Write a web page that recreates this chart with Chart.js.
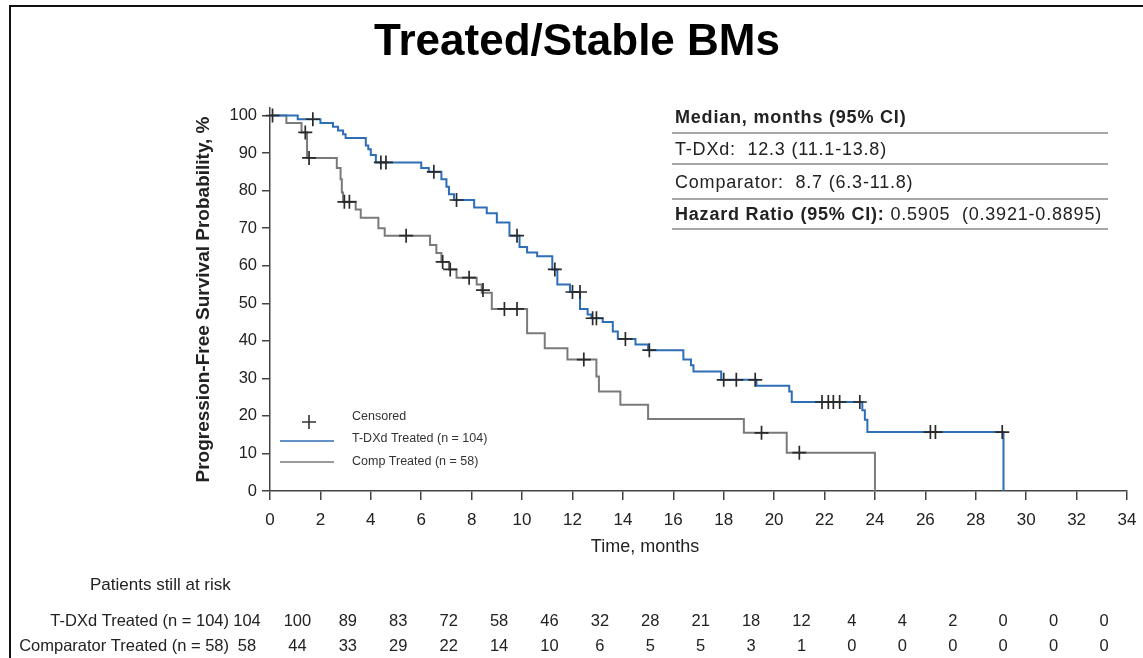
<!DOCTYPE html>
<html>
<head>
<meta charset="utf-8">
<script src="https://cdn.jsdelivr.net/npm/chart.js@4.4.1/dist/chart.umd.min.js"></script>
<style>
  html, body { margin: 0; padding: 0; background: #fff; }
  #wrap { width: 1143px; height: 658px; position: relative; }
</style>
</head>
<body>
<div id="wrap"><canvas id="pfsChart"></canvas></div>
<script>
// Kaplan-Meier steps: time (months) -> survival (%) after the event
const tdxdTimes = [0, 1.1, 2.0, 2.5, 2.7, 2.9, 3.0, 3.8, 3.9, 4.0, 4.2, 6.0, 6.3, 6.8, 7.0, 7.1, 7.3, 8.1, 8.6, 9.0, 9.5, 9.9, 10.2, 10.6, 11.2, 11.4, 11.9, 12.3, 12.6, 12.75, 13.2, 13.6, 13.8, 14.5, 15.0, 16.4, 16.7, 16.8, 17.9, 19.3, 20.6, 20.7, 23.5, 23.6, 23.7, 29.1];
const tdxdSurv  = [100, 99, 98, 97, 96, 95, 94, 92, 91, 89.5, 87.5, 86, 85, 83, 81, 79, 77.5, 75.5, 74, 71.5, 68, 65, 63.5, 62.5, 59, 55, 53, 48.5, 47, 46, 45, 42.5, 40.5, 39, 37.5, 35, 33.5, 31.8, 29.6, 28, 26.5, 23.7, 21.5, 19, 15.7, 0];
const tdxdCensorTimes = [0.1, 1.7, 4.4, 4.6, 6.5, 7.4, 9.8, 11.3, 12.0, 12.3, 12.8, 12.95, 14.1, 15.05, 18.0, 18.5, 19.25, 21.9, 22.15, 22.35, 22.6, 23.4, 26.2, 26.4, 29.05];
const tdxdCensorSurv  = [100, 99, 87.5, 87.5, 85, 77.5, 68, 59, 53, 53, 46, 46, 40.5, 37.5, 29.6, 29.6, 29.6, 23.7, 23.7, 23.7, 23.7, 23.7, 15.7, 15.7, 15.7];

const compTimes = [0, 0.65, 1.25, 1.47, 2.65, 2.8, 2.85, 2.9, 3.4, 3.6, 4.3, 4.55, 6.35, 6.6, 6.8, 7.1, 7.4, 8.2, 8.4, 8.8, 10.2, 10.9, 11.8, 12.95, 13.05, 13.9, 15.0, 18.8, 20.5, 24.0];
const compSurv  = [100, 98, 95.5, 88.7, 86, 83, 79.5, 77, 75, 72.8, 70, 68, 65.5, 63.4, 61, 59, 56.8, 55, 52.8, 48.5, 42, 38, 35, 30.5, 26.5, 23, 19.2, 15.5, 10.2, 0];
const compCensorTimes = [1.4, 1.55, 2.95, 3.15, 5.4, 6.85, 7.15, 7.9, 8.45, 9.3, 9.8, 12.45, 19.5, 21.0];
const compCensorSurv  = [95.5, 88.7, 77, 77, 68, 61, 59, 56.8, 53.5, 48.5, 48.5, 35, 15.5, 10.2];

// Patients still at risk, every 2 months
const riskTimes = [0, 2, 4, 6, 8, 10, 12, 14, 16, 18, 20, 22, 24, 26, 28, 30, 32, 34];
const tdxdRisk = [104, 100, 89, 83, 72, 58, 46, 32, 28, 21, 18, 12, 4, 4, 2, 0, 0, 0];
const compRisk = [58, 44, 33, 29, 22, 14, 10, 6, 5, 5, 3, 1, 0, 0, 0, 0, 0, 0];

const blue = 'rgb(46,110,182)';
const grey = 'rgb(122,122,122)';
const ink = '#222';
const FONT = '"Liberation Sans", Arial, sans-serif';

function toPoints(times, values) {
    return times.map((t, i) => ({ x: t, y: values[i] }));
}

const overlay = {
    id: 'overlay',
    afterDraw(chart) {
        const ctx = chart.ctx;
        const xs = chart.scales.x;
        ctx.save();

        // frame
        ctx.strokeStyle = '#111';
        ctx.lineWidth = 2;
        ctx.beginPath();
        ctx.moveTo(1143, 6);
        ctx.lineTo(10, 6);
        ctx.lineTo(10, 658);
        ctx.stroke();

        // title
        ctx.fillStyle = '#000';
        ctx.textAlign = 'center';
        ctx.textBaseline = 'middle';
        ctx.font = 'bold 44px ' + FONT;
        ctx.fillText('Treated/Stable BMs', 577, 43);

        // x axis title (sits left of the plot centre in the original)
        ctx.fillStyle = ink;
        ctx.font = '18px ' + FONT;
        ctx.fillText('Time, months', 645, 547);

        // median table
        ctx.textAlign = 'left';
        const tx = 675;
        ctx.letterSpacing = '0.8px';
        ctx.font = 'bold 18px ' + FONT;
        ctx.fillText('Median, months (95% CI)', tx, 118);
        ctx.font = '18px ' + FONT;
        ctx.fillText('T-DXd:  12.3 (11.1-13.8)', tx, 150);
        ctx.fillText('Comparator:  8.7 (6.3-11.8)', tx, 183);
        ctx.font = 'bold 18px ' + FONT;
        const hr = 'Hazard Ratio (95% CI):';
        ctx.fillText(hr, tx, 215);
        const w = ctx.measureText(hr).width;
        ctx.font = '18px ' + FONT;
        ctx.fillText(' 0.5905  (0.3921-0.8895)', tx + w, 215);
        ctx.letterSpacing = '0px';
        ctx.strokeStyle = '#8a8a8a';
        ctx.lineWidth = 1.5;
        [133, 164, 199, 229].forEach(y => {
            ctx.beginPath();
            ctx.moveTo(672, y);
            ctx.lineTo(1108, y);
            ctx.stroke();
        });

        // legend
        ctx.strokeStyle = '#333';
        ctx.lineWidth = 1.6;
        ctx.beginPath();
        ctx.moveTo(302, 422); ctx.lineTo(316, 422);
        ctx.moveTo(309, 415); ctx.lineTo(309, 429);
        ctx.stroke();
        ctx.lineWidth = 1.5;
        ctx.strokeStyle = blue;
        ctx.beginPath(); ctx.moveTo(280, 441); ctx.lineTo(334, 441); ctx.stroke();
        ctx.strokeStyle = grey;
        ctx.beginPath(); ctx.moveTo(280, 462); ctx.lineTo(334, 462); ctx.stroke();
        ctx.fillStyle = '#333';
        ctx.font = '12.5px ' + FONT;
        ctx.fillText('Censored', 352, 417);
        ctx.fillText('T-DXd Treated (n = 104)', 352, 439);
        ctx.fillText('Comp Treated (n = 58)', 352, 462);

        // risk table
        ctx.fillStyle = ink;
        ctx.font = '17px ' + FONT;
        ctx.fillText('Patients still at risk', 90, 585);
        ctx.font = '16.5px ' + FONT;
        ctx.textAlign = 'right';
        ctx.fillText('T-DXd Treated (n = 104)', 229, 621);
        ctx.fillText('Comparator Treated (n = 58)', 229, 646);
        ctx.textAlign = 'center';
        riskTimes.forEach((t, i) => {
            const px = xs.getPixelForValue(t) - 23;
            ctx.fillText(String(tdxdRisk[i]), px, 621);
            ctx.fillText(String(compRisk[i]), px, 646);
        });

        ctx.restore();
    }
};

const data = {
    datasets: [
        {
            label: 'Censored',
            type: 'scatter',
            data: toPoints(tdxdCensorTimes, tdxdCensorSurv).concat(toPoints(compCensorTimes, compCensorSurv)),
            pointStyle: 'cross',
            pointRadius: 7,
            pointBorderWidth: 1.7,
            borderColor: '#2a2a2a',
            backgroundColor: '#2a2a2a',
            showLine: false,
            clip: false,
            order: 0
        },
        {
            label: 'T-DXd Treated (n = 104)',
            data: toPoints(tdxdTimes, tdxdSurv),
            borderColor: blue,
            borderWidth: 2,
            stepped: 'before',
            pointRadius: 0,
            fill: false,
            clip: false,
            order: 1
        },
        {
            label: 'Comp Treated (n = 58)',
            data: toPoints(compTimes, compSurv),
            borderColor: grey,
            borderWidth: 2,
            stepped: 'before',
            pointRadius: 0,
            fill: false,
            clip: false,
            order: 2
        }
    ]
};

const config = {
    type: 'line',
    data: data,
    options: {
        responsive: true,
        maintainAspectRatio: false,
        animation: false,
        devicePixelRatio: 1,
        layout: { padding: { left: 186, top: 108, right: 16, bottom: 97 } },
        plugins: {
            legend: { display: false },
            tooltip: { enabled: false }
        },
        scales: {
            x: {
                type: 'linear',
                min: 0,
                max: 34,
                afterFit: s => { s.height = 70; s.paddingLeft = 0; s.paddingRight = 0; },
                border: { display: true, color: '#444', width: 1.5 },
                grid: { drawOnChartArea: false, drawTicks: true, tickLength: 9, color: '#444', lineWidth: 1.5 },
                ticks: { stepSize: 2, padding: 10, color: ink, font: { family: FONT, size: 17 }, maxRotation: 0 },
                title: { display: false }
            },
            y: {
                type: 'linear',
                min: 0,
                max: 102,
                afterFit: s => { s.width = 84; s.paddingTop = 0; s.paddingBottom = 0; },
                border: { display: true, color: '#444', width: 1.5 },
                grid: { drawOnChartArea: false, drawTicks: true, tickLength: 8, color: '#444', lineWidth: 1.5 },
                ticks: { stepSize: 10, includeBounds: false, padding: 5, color: ink, font: { family: FONT, size: 16.5 } },
                title: { display: true, text: 'Progression-Free Survival Probability, %', color: ink, font: { family: FONT, size: 19, weight: 'bold' }, padding: { top: 6, bottom: 0 } }
            }
        }
    },
    plugins: [overlay]
};

new Chart(document.getElementById('pfsChart'), config);
</script>
</body>
</html>
